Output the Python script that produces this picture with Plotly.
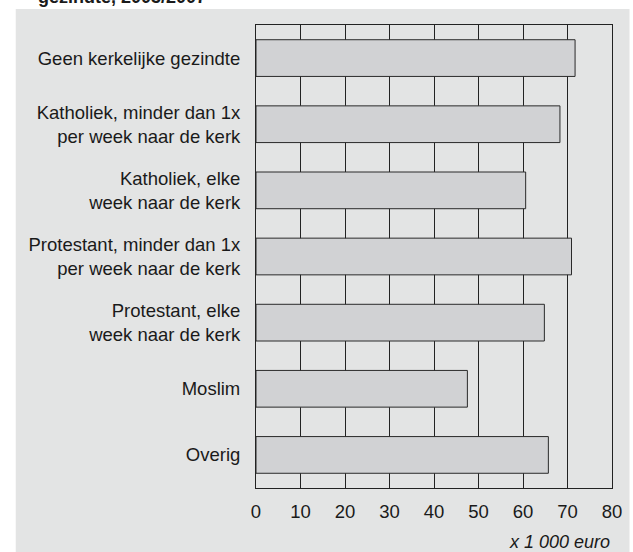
import plotly.graph_objects as go

categories = [
    "Geen kerkelijke gezindte",
    "Katholiek, minder dan 1x<br>per week naar de kerk",
    "Katholiek, elke<br>week naar de kerk",
    "Protestant, minder dan 1x<br>per week naar de kerk",
    "Protestant, elke<br>week naar de kerk",
    "Moslim",
    "Overig",
]
values = [71.7, 68.3, 60.6, 70.9, 64.8, 47.5, 65.7]
x_ticks = [0, 10, 20, 30, 40, 50, 60, 70, 80]
title_text = "gezindte, 2003/2007"
unit_text = "x 1 000 euro"

W, H = 633, 552
L, R, T, B = 256, 11, 25, 64
pw, ph = W - L - R, H - T - B

def px_x(p):
    return (p - L) / pw

def px_y(p):
    return 1 + (T - p) / ph

fig = go.Figure()
fig.add_trace(go.Bar(
    y=categories, x=values, orientation="h", width=0.555,
    marker=dict(color="#d1d2d4", line=dict(color="#2a2a2a", width=1)),
    hoverinfo="skip",
))

fig.add_shape(type="rect", xref="paper", yref="paper",
              x0=px_x(9), x1=px_x(640), y0=px_y(9), y1=px_y(560),
              fillcolor="#e3e4e4", line=dict(width=0), layer="below")

fig.add_annotation(text="<b>" + title_text + "</b>", xref="paper", yref="paper",
                   x=px_x(30), y=px_y(-3.5), xanchor="left", yanchor="middle",
                   showarrow=False, font=dict(size=18, color="#1a1a1a"))
fig.add_annotation(text="<i>" + unit_text + "</i>", xref="paper", yref="paper",
                   x=1, y=px_y(542), xanchor="right", yanchor="middle",
                   showarrow=False, font=dict(size=18, color="#1a1a1a"))

fig.update_layout(
    width=W, height=H, margin=dict(l=L, r=R, t=T, b=B, pad=0),
    paper_bgcolor="white", plot_bgcolor="white",
    font=dict(family="Liberation Sans, Arial, sans-serif", size=18.5, color="#1a1a1a"),
    showlegend=False, bargap=0.445,
)
fig.update_xaxes(range=[0, 80], tickvals=x_ticks, showgrid=True, gridcolor="#222222",
                 gridwidth=1, showline=True, linecolor="#222222", linewidth=1, mirror=True,
                 ticks="", zeroline=False, ticklabelstandoff=7, fixedrange=True)
fig.update_yaxes(categoryorder="array", categoryarray=categories, autorange="reversed",
                 showgrid=False, showline=True, linecolor="#222222", linewidth=1, mirror=True,
                 ticks="", ticklabelstandoff=11, fixedrange=True)

fig.write_html("out.html", config={"displayModeBar": False},
               post_script="document.body.style.margin='0';document.body.style.padding='0';")
